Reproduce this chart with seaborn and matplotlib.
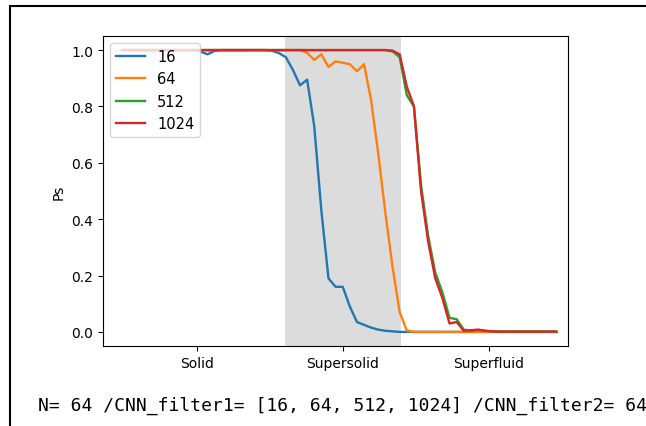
import matplotlib
matplotlib.use("Agg")
import matplotlib.pyplot as plt
import matplotlib.patches as mpatches
import numpy as np
import pandas as pd
import seaborn as sns

# ---- data ----
series_names = ["16", "64", "512", "1024"]
ps_16 = [1.0]*11 + [0.995, 0.985, 0.997] + [1.0]*7 + [
    0.998, 0.99, 0.975, 0.93, 0.875, 0.895, 0.73, 0.43, 0.19, 0.16, 0.16,
    0.09, 0.035, 0.025, 0.015, 0.008, 0.004, 0.002] + [0.0]*23
ps_64 = [1.0]*26 + [0.99, 0.965, 0.985, 0.94, 0.96, 0.955, 0.95, 0.925, 0.95,
                    0.82, 0.63, 0.42, 0.23, 0.07, 0.005] + [0.0]*21
ps_512 = [1.0]*38 + [0.995, 0.975, 0.84, 0.80, 0.52, 0.34, 0.21, 0.14, 0.05,
                     0.045, 0.008, 0.004, 0.007, 0.004, 0.002] + [0.001]*9
ps_1024 = [1.0]*38 + [0.998, 0.985, 0.87, 0.80, 0.50, 0.32, 0.19, 0.12, 0.03,
                      0.035, 0.004, 0.006, 0.008, 0.004, 0.002] + [0.001]*9
x_index = list(range(62))
phase_labels = ["Solid", "Supersolid", "Superfluid"]
phase_ticks = [10.53, 31.04, 51.5]
shade_range = (22.9, 39.2)

rows = []
for name, vals in zip(series_names, [ps_16, ps_64, ps_512, ps_1024]):
    for xi, v in zip(x_index, vals):
        rows.append({"x": xi, "Ps": v, "filter": name})
df = pd.DataFrame(rows)

fig = plt.figure(figsize=(6.46, 4.27), dpi=100)
ax = fig.add_axes([103/646, 1-347/427, (568-103)/646, (347-37)/427])

ax.axvspan(*shade_range, color="#dcdcdc", lw=0, zorder=0)
sns.lineplot(data=df, x="x", y="Ps", hue="filter", hue_order=series_names,
             palette=sns.color_palette("tab10", 4), ax=ax, lw=1.7)

ax.set_xlim(-2.67, 62.64)
ax.set_ylim(-0.05, 1.05)
ax.set_xticks(phase_ticks)
ax.set_xticklabels(phase_labels)
ax.set_xlabel("")
ax.set_ylabel("Ps")
handles, labels = ax.get_legend_handles_labels()
ax.legend(handles, labels, loc="upper left", fontsize=10.5)

fig.add_artist(mpatches.Rectangle((10/646, -1), 2, 1 + (1 - 7/427), fill=False,
                                  lw=1.5, edgecolor="black",
                                  transform=fig.transFigure, clip_on=False))
fig.text(38/646, 1-411/427, "N= 64 /CNN_filter1= [16, 64, 512, 1024] /CNN_filter2= 64",
         family="DejaVu Sans Mono", fontsize=13, va="baseline", ha="left")

fig.savefig("out.png", dpi=100)
